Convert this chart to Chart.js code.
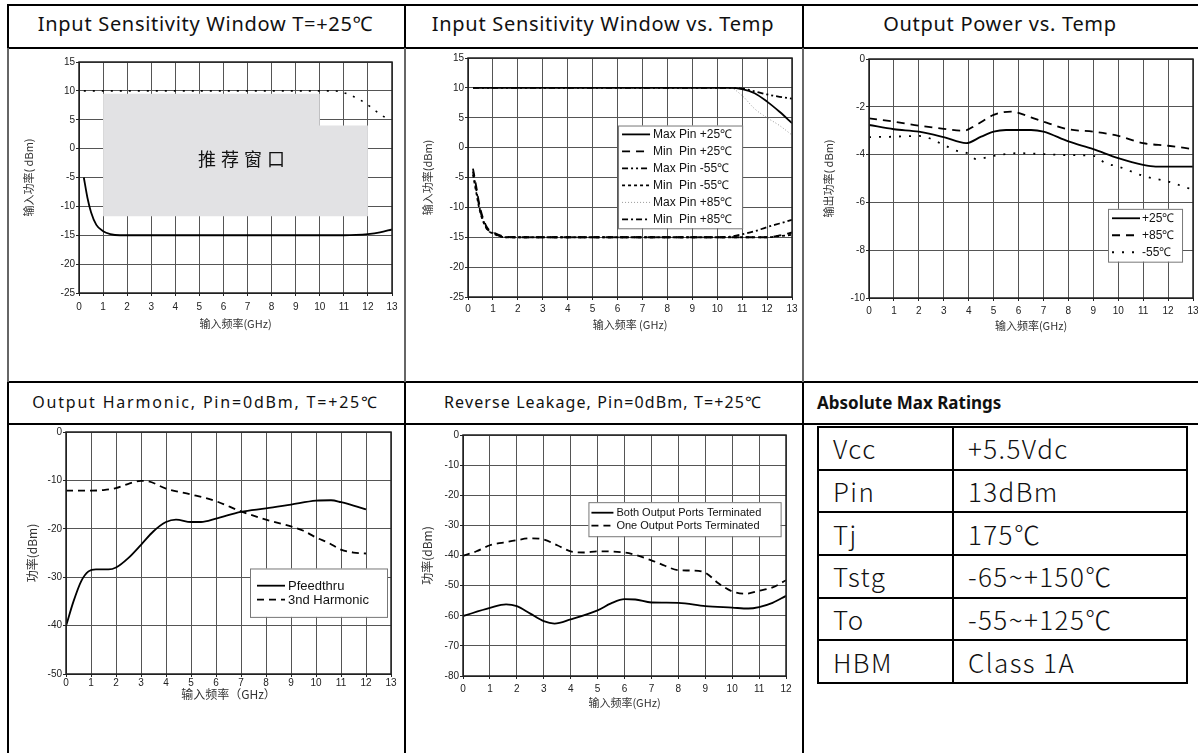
<!DOCTYPE html>
<html>
<head>
<meta charset="utf-8">
<script src="https://cdn.jsdelivr.net/npm/chart.js@4.4.0/dist/chart.umd.min.js"></script>
<style>
  html, body { margin: 0; padding: 0; background: #fff; }
  #page { position: relative; width: 1198px; height: 753px; overflow: hidden; }
  .hl { position: absolute; height: 2px; background: #000; }
  .vl { position: absolute; width: 2px; }
  .ttl { position: absolute; text-align: center; font-family: 'Noto Sans', 'Noto Sans CJK SC', sans-serif; color: #111; white-space: nowrap; line-height: 1.3; }
  canvas { position: absolute; }
  #ratings { position: absolute; left: 817px; top: 426px; border-collapse: collapse; font-family: 'Noto Sans CJK SC', sans-serif; font-weight: 300; font-size: 26px; letter-spacing: 1.4px; color: #111; }
  #ratings td { border: 2px solid #000; height: 42.7px; padding: 0 0 0 14px; box-sizing: border-box; line-height: 1; }
</style>
</head>
<body>
<div id="page">
  <!-- table lines -->
  <div class="hl" style="left:7px;top:4px;width:1191px"></div>
  <div class="hl" style="left:7px;top:47px;width:1191px"></div>
  <div class="hl" style="left:7px;top:381px;width:1191px"></div>
  <div class="hl" style="left:7px;top:423px;width:1191px"></div>
  <div class="vl" style="left:7px;top:4px;height:44px;background:#000"></div>
  <div class="vl" style="left:404px;top:4px;height:44px;background:#000"></div>
  <div class="vl" style="left:802px;top:4px;height:44px;background:#000"></div>
  <div class="vl" style="left:7px;top:48px;height:334px;background:#666"></div>
  <div class="vl" style="left:404px;top:48px;height:334px;background:#666"></div>
  <div class="vl" style="left:802px;top:48px;height:334px;background:#666"></div>
  <div class="vl" style="left:7px;top:382px;height:371px;background:#000"></div>
  <div class="vl" style="left:404px;top:382px;height:371px;background:#000"></div>
  <div class="vl" style="left:802px;top:382px;height:371px;background:#000"></div>

  <div class="ttl" style="left:7px;width:397px;top:11px;font-size:20px;letter-spacing:0.7px">Input Sensitivity Window T=+25℃</div>
  <div class="ttl" style="left:404px;width:398px;top:11px;font-size:20px;letter-spacing:0.7px">Input Sensitivity Window vs. Temp</div>
  <div class="ttl" style="left:802px;width:396px;top:11px;font-size:20px;letter-spacing:0.7px">Output Power vs. Temp</div>
  <div class="ttl" style="left:7px;width:397px;top:392px;font-size:16px;letter-spacing:1.8px">Output Harmonic, Pin=0dBm, T=+25℃</div>
  <div class="ttl" style="left:404px;width:398px;top:392px;font-size:16px;letter-spacing:1.1px">Reverse Leakage, Pin=0dBm, T=+25℃</div>
  <div class="ttl" style="left:817px;top:392px;font-size:17px;font-weight:bold;text-align:left">Absolute Max Ratings</div>

  <canvas id="c1"></canvas>
  <canvas id="c2"></canvas>
  <canvas id="c3"></canvas>
  <canvas id="c4"></canvas>
  <canvas id="c5"></canvas>

  <table id="ratings"></table>
</div>

<script>
// ---- chart 1: input sensitivity window, T=+25C ----
const c1MinFreq = [0.2, 0.35, 0.5, 0.72, 1.0, 1.3, 1.7, 3, 5, 7, 9, 11, 11.5, 12, 12.5, 13];
const c1Min = [-5, -8.5, -11, -13.2, -14.3, -14.8, -15, -15, -15, -15, -15, -15, -14.95, -14.8, -14.5, -14];
const c1MaxFreq = [0.2, 2, 4, 6, 8, 10, 10.5, 10.9, 11.3, 11.65, 12.05, 12.4, 12.85];
const c1Max = [10, 10, 10, 10, 10, 10, 10, 9.8, 9.2, 8.5, 7.4, 6.3, 5.0];
const windowFreq = [1, 10, 10, 12];
const windowTop = [9.5, 9.5, 4.0, 4.0];
const windowBottom = -11.7;

// ---- chart 2: input sensitivity window vs temp ----
const c2MaxFreq = [0.2, 2, 4, 6, 8, 10, 10.5, 11, 11.5, 12, 12.5, 13];
const max25 = [10, 10, 10, 10, 10, 10, 10, 9.8, 9.1, 7.7, 6.0, 4.1];
const maxM55 = [10, 10, 10, 10, 10, 10, 10, 9.9, 9.4, 8.9, 8.5, 8.2];
const max85 = [10, 10, 10, 10, 10, 10, 10, 8.7, 6.5, 5.0, 3.7, 2.1];
const c2MinFreq = [0.2, 0.33, 0.47, 0.74, 1.07, 1.5, 2, 4, 6, 8, 10, 10.5, 11, 11.5, 12, 12.5, 13];
const min25 = [-3.5, -6.5, -9.8, -13.2, -14.3, -14.9, -15, -15, -15, -15, -15, -15, -15, -15, -15, -14.7, -14.2];
const minM55 = [-4.5, -7.5, -10.5, -13.5, -14.5, -15, -15, -15, -15, -15, -15, -15, -15, -15, -15, -14.8, -14.6];
const min85 = [-4, -7, -10.2, -13.4, -14.4, -15, -15, -15, -15, -15, -15, -14.9, -14.5, -14, -13.3, -12.7, -12.1];

// ---- chart 3: output power vs temp ----
const c3Freq25 = [0, 1, 2, 3, 3.9, 4.5, 5, 5.5, 6.5, 7, 8, 9, 10, 11, 11.5, 13];
const pout25 = [-2.76, -2.94, -3.04, -3.27, -3.52, -3.25, -3.04, -2.97, -2.97, -3.04, -3.45, -3.77, -4.15, -4.43, -4.5, -4.5];
const c3Freq85 = [0, 1, 2, 3, 3.8, 4.3, 5, 5.7, 6.5, 7, 8, 9, 10, 11, 12, 13];
const pout85 = [-2.48, -2.62, -2.79, -2.92, -3.0, -2.76, -2.34, -2.2, -2.44, -2.62, -2.94, -3.04, -3.22, -3.52, -3.63, -3.77];
const c3FreqM55 = [0, 1, 2, 3, 3.4, 4, 4.3, 5, 6, 7, 8, 9, 9.5, 10, 11, 12, 13];
const poutM55 = [-3.27, -3.25, -3.22, -3.59, -3.8, -3.97, -4.19, -4.05, -3.94, -3.98, -4.02, -4.05, -4.36, -4.5, -4.89, -5.13, -5.47];

// ---- chart 4: output harmonic ----
const c4FeedFreq = [0, 0.3, 0.6, 0.9, 1.2, 1.7, 2, 2.5, 3, 3.5, 4, 4.4, 5, 5.4, 6, 7, 8, 9, 10, 10.6, 11, 11.5, 12];
const feedthru = [-40.1, -35, -30.9, -28.8, -28.4, -28.4, -28, -26, -23.3, -20.5, -18.6, -18.1, -18.6, -18.6, -17.9, -16.5, -15.8, -15, -14.2, -14.1, -14.5, -15.2, -16];
const c4HarmFreq = [0, 1, 1.5, 2, 2.5, 3, 3.3, 4, 5, 6, 7, 8, 9, 9.5, 10, 10.5, 11, 11.5, 12];
const harmonic3 = [-12.1, -12.1, -12, -11.6, -10.7, -10.1, -10.2, -11.7, -12.9, -14.3, -16.4, -18.1, -19.5, -20.4, -21.8, -22.9, -24.3, -24.9, -25.1];

// ---- chart 5: reverse leakage ----
const c5BothFreq = [0, 1, 1.6, 2, 2.5, 3, 3.4, 4, 5, 5.5, 6, 6.4, 7, 8, 9, 10, 10.6, 11, 11.5, 12];
const leakBoth = [-60.1, -57.4, -56.2, -56.8, -59.3, -61.8, -62.6, -61.2, -58.2, -55.9, -54.5, -54.6, -55.6, -55.7, -56.8, -57.3, -57.6, -57.1, -55.7, -53.4];
const c5OneFreq = [0, 0.5, 1, 1.5, 2, 2.5, 3, 3.5, 4, 4.5, 5, 6, 7, 7.5, 8, 8.5, 9, 9.5, 10, 10.5, 11, 11.5, 12];
const leakOne = [-40.1, -38.6, -36.6, -35.7, -34.9, -34.3, -34.7, -36.6, -38.6, -39, -38.6, -39, -41.6, -43.4, -44.9, -45, -45.7, -49.3, -51.9, -52.7, -51.7, -50.6, -48.2];

// ---- ratings table ----
const ratingNames = ['Vcc', 'Pin', 'Tj', 'Tstg', 'To', 'HBM'];
const ratingValues = ['+5.5Vdc', '13dBm', '175℃', '-65~+150℃', '-55~+125℃', 'Class 1A'];

const TICK_FONT = "'Liberation Sans', Arial, sans-serif";
const CJK_FONT = "'Noto Sans CJK SC', sans-serif";

const pts = (xs, ys) => xs.map((x, i) => ({ x: x, y: ys[i] }));

function serie(label, xs, ys, dash, extra) {
  return Object.assign({
    label: label,
    data: pts(xs, ys),
    borderColor: '#000',
    borderWidth: 1.8,
    borderDash: dash,
    pointRadius: 0,
    fill: false,
    cubicInterpolationMode: 'monotone'
  }, extra || {});
}

// box around the plot area
const frame = {
  id: 'frame',
  afterDraw(chart) {
    const { ctx, chartArea: a } = chart;
    ctx.save();
    ctx.strokeStyle = '#222';
    ctx.lineWidth = 1.5;
    ctx.strokeRect(a.left, a.top, a.right - a.left, a.bottom - a.top);
    ctx.restore();
  }
};

// legend drawn inside the plot, placed in data units
const boxLegend = {
  id: 'boxLegend',
  afterDatasetsDraw(chart, args, opts) {
    if (!opts || !opts.corner) return;
    const { ctx } = chart;
    const x = chart.scales.x, y = chart.scales.y;
    const left = x.getPixelForValue(opts.corner[0]);
    const top = y.getPixelForValue(opts.corner[1]);
    const right = x.getPixelForValue(opts.corner[2]);
    const bottom = y.getPixelForValue(opts.corner[3]);
    const items = chart.data.datasets.filter(d => d.label);
    const rowH = opts.rowH;
    const startY = (top + bottom) / 2 - rowH * items.length / 2;
    ctx.save();
    ctx.fillStyle = '#fff';
    ctx.fillRect(left, top, right - left, bottom - top);
    ctx.strokeStyle = '#777';
    ctx.lineWidth = 1;
    ctx.strokeRect(left + 0.5, top + 0.5, right - left, bottom - top);
    ctx.font = opts.font;
    ctx.textBaseline = 'middle';
    items.forEach((d, i) => {
      const cy = startY + rowH * (i + 0.5);
      ctx.beginPath();
      ctx.setLineDash(d.borderDash || []);
      ctx.strokeStyle = d.borderColor;
      ctx.lineWidth = d.borderWidth;
      ctx.moveTo(left + opts.pad, cy);
      ctx.lineTo(left + opts.pad + opts.sample, cy);
      ctx.stroke();
      ctx.setLineDash([]);
      ctx.fillStyle = '#111';
      ctx.fillText(d.label, left + opts.pad + opts.sample + opts.gap, cy + 0.5);
    });
    ctx.restore();
  }
};

// text inside the recommended window
const windowText = {
  id: 'windowText',
  afterDatasetsDraw(chart, args, opts) {
    if (!opts || !opts.text) return;
    const { ctx } = chart;
    ctx.save();
    ctx.font = opts.font;
    ctx.fillStyle = '#111';
    ctx.textAlign = 'center';
    ctx.textBaseline = 'middle';
    ctx.letterSpacing = '5px';
    ctx.fillText(opts.text, chart.scales.x.getPixelForValue(opts.at[0]) + 2.5, chart.scales.y.getPixelForValue(opts.at[1]));
    ctx.restore();
  }
};

function buildChart(id, cell, plot, c) {
  const titlePad = 2;
  const yLh = c.yTitleSize * 1.2, xLh = c.xTitleSize * 1.2;
  const padLeft = c.yTitleX - cell.x - titlePad - yLh / 2;
  const yWidth = plot.l - cell.x - padLeft;
  const xHeight = c.xTitleY - plot.b + xLh / 2 + titlePad;

  const canvas = document.getElementById(id);
  canvas.width = cell.w;
  canvas.height = cell.h;
  canvas.style.left = cell.x + 'px';
  canvas.style.top = cell.y + 'px';

  const gridOpts = { color: '#555', lineWidth: 1, drawTicks: true, tickLength: 3, tickColor: '#222' };
  const tickFont = { family: TICK_FONT, size: c.tickSize };

  return new Chart(canvas, {
    type: 'line',
    data: { datasets: c.datasets },
    options: {
      responsive: false,
      animation: false,
      layout: {
        padding: {
          left: padLeft,
          top: plot.t - cell.y,
          right: cell.x + cell.w - plot.r,
          bottom: cell.y + cell.h - plot.b - xHeight
        }
      },
      plugins: {
        legend: { display: false },
        tooltip: { enabled: false },
        boxLegend: c.legend || {},
        windowText: c.windowText || {}
      },
      scales: {
        x: {
          type: 'linear',
          min: c.xMin, max: c.xMax,
          ticks: { stepSize: 1, color: '#222', font: tickFont, padding: c.xTickPad, maxRotation: 0, autoSkip: false },
          grid: gridOpts,
          border: { display: true, color: '#222', width: 1 },
          title: { display: true, text: c.xTitle, color: '#333', font: { family: CJK_FONT, size: c.xTitleSize }, padding: { top: 0, bottom: titlePad } },
          afterFit: s => { s.height = xHeight; s.paddingLeft = 0; s.paddingRight = 0; }
        },
        y: {
          type: 'linear',
          min: c.yMin, max: c.yMax,
          ticks: { stepSize: c.yStep, color: '#222', font: tickFont, padding: 1, autoSkip: false },
          grid: gridOpts,
          border: { display: true, color: '#222', width: 1 },
          title: { display: true, text: c.yTitle, color: '#333', font: { family: CJK_FONT, size: c.yTitleSize }, padding: { top: titlePad, bottom: 0 } },
          afterFit: s => { s.width = yWidth; s.paddingTop = 0; s.paddingBottom = 0; }
        }
      }
    },
    plugins: [frame, boxLegend, windowText]
  });
}

// chart 1
buildChart('c1', { x: 9, y: 49, w: 395, h: 332 }, { l: 79, t: 62, r: 392, b: 293 }, {
  xMin: 0, xMax: 13, yMin: -25, yMax: 15, yStep: 5, tickSize: 10, xTickPad: 5,
  xTitle: '输入频率(GHz)', yTitle: '输入功率( dBm)', xTitleSize: 11, yTitleSize: 11,
  yTitleX: 29, xTitleY: 324,
  windowText: { text: '推荐窗口', at: [6.75, -1.9], font: "18px 'Noto Sans CJK SC', sans-serif" },
  datasets: [
    serie('', windowFreq, windowTop, [], {
      borderWidth: 0, backgroundColor: '#e2e2e4', fill: { value: windowBottom },
      cubicInterpolationMode: 'default', tension: 0
    }),
    serie('', c1MaxFreq, c1Max, [2, 7], { borderWidth: 1.6 }),
    serie('', c1MinFreq, c1Min, [])
  ]
});

// chart 2
buildChart('c2', { x: 406, y: 49, w: 396, h: 332 }, { l: 468, t: 58, r: 792, b: 297 }, {
  xMin: 0, xMax: 13, yMin: -25, yMax: 15, yStep: 5, tickSize: 10, xTickPad: 3,
  xTitle: '输入频率 (GHz)', yTitle: '输入功率(dBm)', xTitleSize: 11, yTitleSize: 11,
  yTitleX: 428, xTitleY: 325,
  legend: { corner: [6.02, 3.7, 11.0, -13.5], rowH: 17, pad: 4, sample: 28, gap: 3, font: "12px 'Liberation Sans', Arial, sans-serif" },
  datasets: [
    serie('Max Pin +25℃', c2MaxFreq, max25, []),
    serie('Min  Pin +25℃', c2MinFreq, min25, [8, 6]),
    serie('Max Pin -55℃', c2MaxFreq, maxM55, [6, 3, 2, 3, 2, 3]),
    serie('Min  Pin -55℃', c2MinFreq, minM55, [3, 3]),
    serie('Max Pin +85℃', c2MaxFreq, max85, [1, 2], { borderColor: '#999', borderWidth: 1 }),
    serie('Min  Pin +85℃', c2MinFreq, min85, [6, 3, 2, 3])
  ]
});

// chart 3
buildChart('c3', { x: 804, y: 49, w: 394, h: 332 }, { l: 869, t: 59, r: 1193, b: 298 }, {
  xMin: 0, xMax: 13, yMin: -10, yMax: 0, yStep: 2, tickSize: 10, xTickPad: 4,
  xTitle: '输入频率(GHz)', yTitle: '输出功率( dBm)', xTitleSize: 11, yTitleSize: 11,
  yTitleX: 829, xTitleY: 326,
  legend: { corner: [9.59, -6.27, 12.56, -8.48], rowH: 17, pad: 4, sample: 28, gap: 2, font: "12px 'Liberation Sans', Arial, sans-serif" },
  datasets: [
    serie('+25℃', c3Freq25, pout25, []),
    serie('+85℃', c3Freq85, pout85, [8, 6]),
    serie('-55℃', c3FreqM55, poutM55, [2, 8])
  ]
});

// chart 4
buildChart('c4', { x: 9, y: 425, w: 395, h: 328 }, { l: 66, t: 432, r: 391, b: 674 }, {
  xMin: 0, xMax: 13, yMin: -50, yMax: 0, yStep: 10, tickSize: 10, xTickPad: 0,
  xTitle: '输入频率（GHz）', yTitle: '功率(dBm)', xTitleSize: 12, yTitleSize: 12,
  yTitleX: 32, xTitleY: 694,
  legend: { corner: [7.36, -28.2, 12.84, -38.2], rowH: 14, pad: 7, sample: 28, gap: 3, font: "13px 'Liberation Sans', Arial, sans-serif" },
  datasets: [
    serie('Pfeedthru', c4FeedFreq, feedthru, []),
    serie('3nd Harmonic', c4HarmFreq, harmonic3, [7, 5])
  ]
});

// chart 5
buildChart('c5', { x: 406, y: 425, w: 396, h: 328 }, { l: 463, t: 435, r: 786, b: 676 }, {
  xMin: 0, xMax: 12, yMin: -80, yMax: 0, yStep: 10, tickSize: 10, xTickPad: 4,
  xTitle: '输入频率(GHz)', yTitle: '功率(dBm)', xTitleSize: 11, yTitleSize: 12,
  yTitleX: 427, xTitleY: 703,
  legend: { corner: [4.66, -22.3, 11.8, -33.6], rowH: 13, pad: 3, sample: 22, gap: 3, font: "11px 'Liberation Sans', Arial, sans-serif" },
  datasets: [
    serie('Both Output Ports Terminated', c5BothFreq, leakBoth, []),
    serie('One Output Ports Terminated', c5OneFreq, leakOne, [7, 5])
  ]
});

// ratings table
const table = document.getElementById('ratings');
ratingNames.forEach((name, i) => {
  const tr = document.createElement('tr');
  const a = document.createElement('td');
  a.style.width = '135px';
  a.textContent = name;
  const b = document.createElement('td');
  b.style.width = '234px';
  b.textContent = ratingValues[i];
  tr.appendChild(a);
  tr.appendChild(b);
  table.appendChild(tr);
});
</script>
</body>
</html>
